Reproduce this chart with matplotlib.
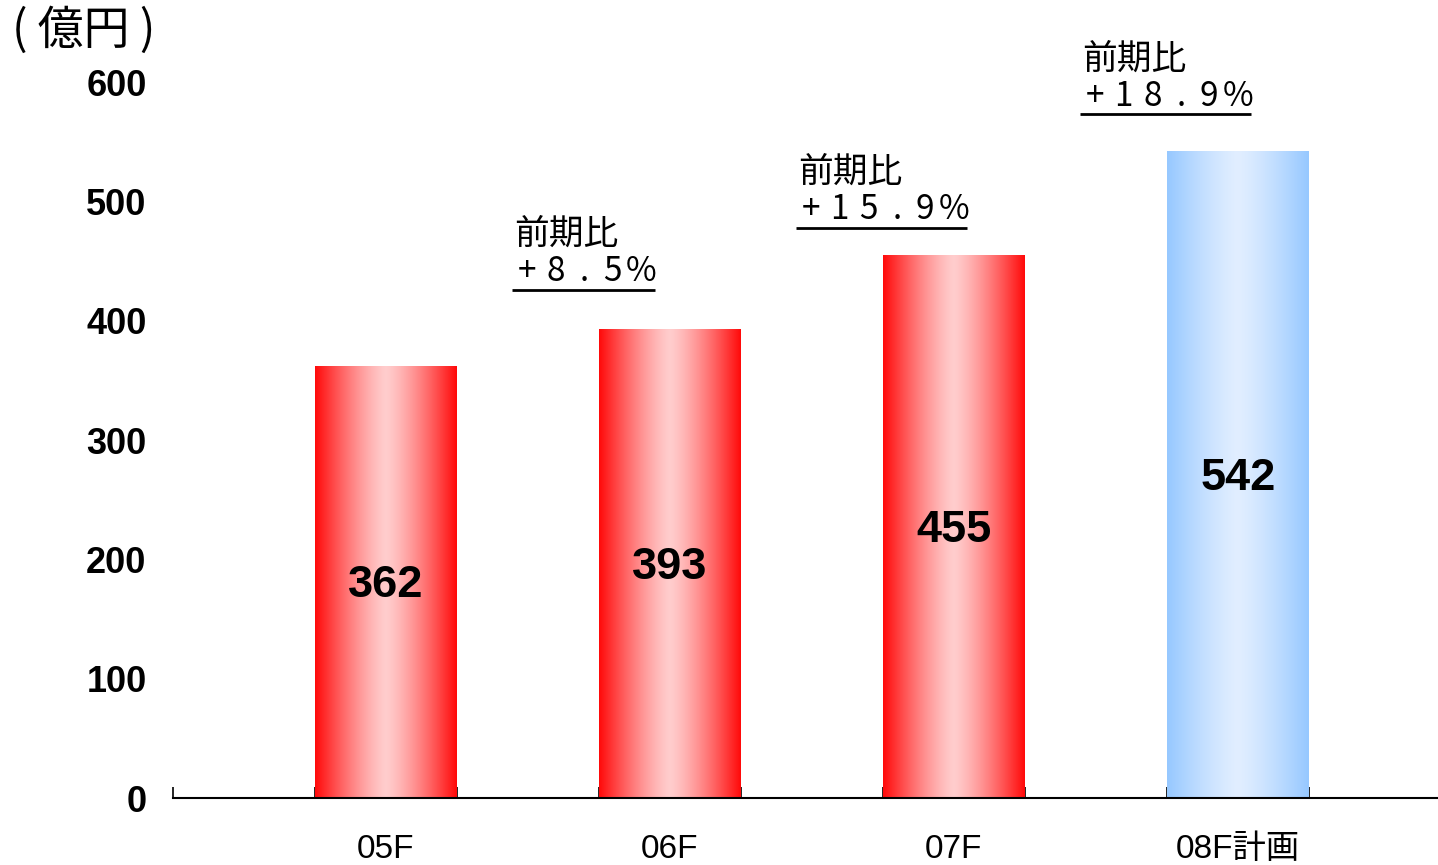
import numpy as np
import matplotlib
matplotlib.use('Agg')
import matplotlib.pyplot as plt

plt.rcParams['font.family'] = ['Liberation Sans', 'Noto Sans CJK JP', 'DejaVu Sans']

categories = ['05F', '06F', '07F', '08F計画']
values = [362, 393, 455, 542]
growth = [8.5, 15.9, 18.9]          # 前期比 for 06F, 07F, 08F
is_plan = [False, False, False, True]

# layout only
BAR_W = 0.5
note_y = [441, 493, 588]            # y of the "+x.x%" line, in data units
PITCH = 20.5                        # character pitch of the percentage line, points

def gradient(edge, center, n=200):
    t = np.abs(np.linspace(-1, 1, n)) ** 1.3
    edge = np.array(edge) / 255.0
    center = np.array(center) / 255.0
    return (center[None, :] + (edge - center)[None, :] * t[:, None])[None, :, :]

red_grad = gradient((255, 10, 10), (255, 205, 205))
blue_grad = gradient((150, 200, 255), (225, 238, 255))

fig = plt.figure(figsize=(14.38, 8.65), dpi=100)
ax = fig.add_axes([173 / 1438, 1 - 798 / 865, 1 - 173 / 1438, (798 - 82) / 865])

x = np.arange(len(categories))
for i, v in enumerate(values):
    img = blue_grad if is_plan[i] else red_grad
    ax.imshow(img, extent=[x[i] - BAR_W / 2, x[i] + BAR_W / 2, 0, v],
              aspect='auto', interpolation='bilinear', zorder=2)
    ax.text(x[i], v / 2 - 3, str(v), ha='center', va='center',
            fontsize=32.5, fontweight='bold', zorder=3)

for i, g in enumerate(growth):
    xi = x[i + 1] - 0.535
    yi = note_y[i]
    ax.annotate('前期比', (xi, yi), xytext=(-3, 27), textcoords='offset points',
                ha='left', va='center', fontsize=25, family='Noto Sans CJK JP',
                annotation_clip=False)
    chars = '+' + ('%.1f' % g) + '%'
    for k, c in enumerate(chars):
        ax.annotate(c, (xi, yi), xytext=((k + 0.5) * PITCH - 3.5, 0), textcoords='offset points',
                    ha='center', va='center', fontsize=24, family='Noto Sans CJK JP',
                    annotation_clip=False)
    ln_w = len(chars) * PITCH * 100 / 72 / 284   # chars width in data units
    ax.plot([xi - 0.02, xi + ln_w - 0.02], [yi - 15, yi - 15], color='black', lw=2,
            clip_on=False, solid_capstyle='butt')

ax.set_xlim(-0.75, 3.705)
ax.set_ylim(0, 600)

ax.set_yticks(np.arange(0, 601, 100))
ax.set_yticklabels([str(t) for t in range(0, 601, 100)], fontsize=26, fontweight='bold')
ax.tick_params(axis='y', length=0, pad=19)

ax.set_xticks(x)
ax.set_xticklabels(categories, fontsize=24)
ax.tick_params(axis='x', which='major', length=0, pad=26)
edges = [-0.75] + [p for xi in x for p in (xi - BAR_W / 2, xi + BAR_W / 2)]
ax.set_xticks(edges, minor=True)
ax.tick_params(axis='x', which='minor', direction='in', length=8, width=1.2, color='black')

for s in ['left', 'right', 'top']:
    ax.spines[s].set_visible(False)
ax.spines['bottom'].set_linewidth(1.5)
ax.spines['bottom'].set_zorder(4)

fig.text(12 / 1438, 1 - 31 / 865, '( 億円 )', ha='left', va='center', fontsize=33,
         family=['Noto Sans CJK JP', 'DejaVu Sans'])

fig.savefig('out.png', dpi=100)
